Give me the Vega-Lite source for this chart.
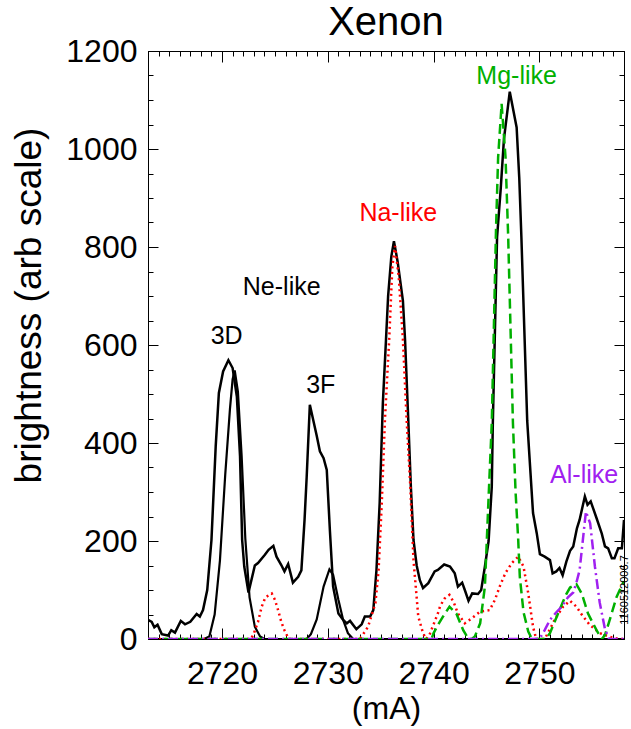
{
  "$schema": "https://vega.github.io/schema/vega-lite/v6.json",
  "width": 476,
  "height": 588,
  "autosize": {"type": "none"},
  "padding": {"left": 148, "top": 51, "right": 7, "bottom": 90},
  "title": {"text": "Xenon", "fontSize": 40, "font": "Liberation Sans", "fontWeight": "normal", "color": "black", "anchor": "middle", "frame": "group", "offset": 14, "dy": 22},
  "config": {
    "view": {"stroke": "black", "strokeWidth": 1},
    "axis": {"domainColor": "black", "tickColor": "black", "labelColor": "black", "titleColor": "black", "labelFont": "Liberation Sans", "titleFont": "Liberation Sans", "titleFontWeight": "normal", "grid": false}
  },
  "datasets": {
    "obs": [
      {"x":2713.0,"y":39},{"x":2713.35,"y":35},{"x":2713.6,"y":24},{"x":2713.9,"y":29},{"x":2714.3,"y":10},{"x":2714.9,"y":7},{"x":2715.2,"y":18},{"x":2715.55,"y":13},{"x":2716.1,"y":37},{"x":2716.5,"y":30},{"x":2717.0,"y":35},{"x":2717.6,"y":51},{"x":2717.9,"y":46},{"x":2718.2,"y":59},{"x":2718.6,"y":100},{"x":2719.0,"y":202},{"x":2719.4,"y":393},{"x":2719.7,"y":502},{"x":2720.1,"y":546},{"x":2720.6,"y":569},{"x":2721.0,"y":553},{"x":2721.4,"y":495},{"x":2721.7,"y":373},{"x":2721.9,"y":202},{"x":2722.1,"y":148},{"x":2722.5,"y":95},{"x":2723.1,"y":150},{"x":2723.4,"y":155},{"x":2724.05,"y":172},{"x":2724.4,"y":182},{"x":2724.85,"y":190},{"x":2725.15,"y":168},{"x":2725.6,"y":151},{"x":2725.9,"y":138},{"x":2726.25,"y":153},{"x":2726.7,"y":115},{"x":2727.2,"y":127},{"x":2727.5,"y":140},{"x":2727.8,"y":243},{"x":2728.0,"y":330},{"x":2728.3,"y":478},{"x":2728.95,"y":415},{"x":2729.25,"y":383},{"x":2729.6,"y":369},{"x":2729.9,"y":345},{"x":2730.2,"y":220},{"x":2730.5,"y":107},{"x":2731.0,"y":52},{"x":2731.45,"y":39},{"x":2731.8,"y":32},{"x":2732.1,"y":37},{"x":2732.7,"y":20},{"x":2733.2,"y":30},{"x":2733.5,"y":46},{"x":2734.0,"y":46},{"x":2734.3,"y":59},{"x":2734.6,"y":141},{"x":2734.9,"y":277},{"x":2735.2,"y":480},{"x":2735.5,"y":611},{"x":2735.7,"y":700},{"x":2736.0,"y":780},{"x":2736.25,"y":812},{"x":2736.6,"y":770},{"x":2737.1,"y":690},{"x":2737.3,"y":611},{"x":2737.6,"y":450},{"x":2737.85,"y":311},{"x":2738.1,"y":202},{"x":2738.4,"y":150},{"x":2738.7,"y":120},{"x":2739.0,"y":104},{"x":2739.5,"y":114},{"x":2740.1,"y":138},{"x":2740.4,"y":141},{"x":2741.0,"y":152},{"x":2741.55,"y":148},{"x":2742.0,"y":134},{"x":2742.3,"y":107},{"x":2742.7,"y":115},{"x":2743.0,"y":97},{"x":2743.3,"y":78},{"x":2743.65,"y":93},{"x":2744.2,"y":92},{"x":2744.5,"y":100},{"x":2744.85,"y":148},{"x":2745.2,"y":200},{"x":2745.5,"y":311},{"x":2745.6,"y":441},{"x":2746.0,"y":820},{"x":2746.35,"y":920},{"x":2746.65,"y":1020},{"x":2747.2,"y":1117},{"x":2747.85,"y":1044},{"x":2748.1,"y":940},{"x":2748.3,"y":820},{"x":2748.85,"y":445},{"x":2749.4,"y":257},{"x":2749.75,"y":216},{"x":2750.05,"y":173},{"x":2750.5,"y":168},{"x":2751.0,"y":161},{"x":2751.25,"y":134},{"x":2751.6,"y":138},{"x":2751.9,"y":145},{"x":2752.2,"y":130},{"x":2752.55,"y":158},{"x":2752.9,"y":180},{"x":2753.2,"y":189},{"x":2753.55,"y":226},{"x":2753.8,"y":243},{"x":2754.3,"y":291},{"x":2754.55,"y":274},{"x":2754.85,"y":281},{"x":2755.4,"y":247},{"x":2755.9,"y":215},{"x":2756.2,"y":189},{"x":2756.5,"y":185},{"x":2756.85,"y":165},{"x":2757.1,"y":165},{"x":2757.45,"y":185},{"x":2757.8,"y":185},{"x":2758.0,"y":243}
    ],
    "ne": [
      {"x":2713.0,"y":0},{"x":2718.3,"y":0},{"x":2718.8,"y":5},{"x":2719.3,"y":50},{"x":2719.8,"y":160},{"x":2720.3,"y":335},{"x":2720.75,"y":470},{"x":2721.0,"y":530},{"x":2721.2,"y":548},{"x":2721.5,"y":505},{"x":2721.85,"y":375},{"x":2722.2,"y":205},{"x":2722.6,"y":85},{"x":2723.1,"y":25},{"x":2723.6,"y":5},{"x":2724.0,"y":0},{"x":2728.0,"y":0},{"x":2728.4,"y":10},{"x":2728.95,"y":40},{"x":2729.6,"y":107},{"x":2730.15,"y":142},{"x":2730.5,"y":131},{"x":2731.0,"y":80},{"x":2731.45,"y":39},{"x":2731.9,"y":12},{"x":2732.4,"y":0},{"x":2758.0,"y":0}
    ],
    "na": [
      {"x":2713.0,"y":0},{"x":2722.7,"y":0},{"x":2722.95,"y":8},{"x":2723.4,"y":35},{"x":2723.75,"y":66},{"x":2724.1,"y":85},{"x":2724.7,"y":93},{"x":2725.0,"y":80},{"x":2725.3,"y":59},{"x":2725.6,"y":35},{"x":2725.9,"y":18},{"x":2726.3,"y":0},{"x":2733.0,"y":0},{"x":2733.2,"y":5},{"x":2733.8,"y":25},{"x":2734.5,"y":73},{"x":2734.8,"y":141},{"x":2735.1,"y":277},{"x":2735.4,"y":448},{"x":2735.8,"y":611},{"x":2736.1,"y":760},{"x":2736.35,"y":802},{"x":2736.7,"y":740},{"x":2737.1,"y":611},{"x":2737.45,"y":448},{"x":2737.8,"y":311},{"x":2738.1,"y":161},{"x":2738.55,"y":46},{"x":2739.0,"y":12},{"x":2739.3,"y":0},{"x":2739.6,"y":8},{"x":2740.0,"y":30},{"x":2740.4,"y":52},{"x":2740.6,"y":66},{"x":2741.0,"y":82},{"x":2741.5,"y":90},{"x":2741.9,"y":75},{"x":2742.3,"y":52},{"x":2742.95,"y":32},{"x":2743.6,"y":42},{"x":2744.4,"y":56},{"x":2745.3,"y":59},{"x":2745.8,"y":80},{"x":2746.3,"y":110},{"x":2746.8,"y":135},{"x":2747.4,"y":155},{"x":2748.0,"y":168},{"x":2748.5,"y":148},{"x":2748.95,"y":93},{"x":2749.4,"y":25},{"x":2749.7,"y":0},{"x":2750.5,"y":0},{"x":2751.0,"y":20},{"x":2751.5,"y":42},{"x":2752.25,"y":66},{"x":2752.9,"y":78},{"x":2753.5,"y":66},{"x":2754.0,"y":50},{"x":2754.75,"y":29},{"x":2755.7,"y":12},{"x":2756.6,"y":5},{"x":2757.5,"y":0},{"x":2758.0,"y":0}
    ],
    "mg": [
      {"x":2713.0,"y":0},{"x":2739.8,"y":0},{"x":2740.0,"y":12},{"x":2740.5,"y":32},{"x":2740.9,"y":46},{"x":2741.5,"y":66},{"x":2742.15,"y":52},{"x":2742.8,"y":18},{"x":2743.3,"y":0},{"x":2743.6,"y":0},{"x":2743.9,"y":5},{"x":2744.4,"y":32},{"x":2744.85,"y":107},{"x":2745.2,"y":290},{"x":2745.5,"y":441},{"x":2745.9,"y":836},{"x":2746.1,"y":983},{"x":2746.43,"y":1092},{"x":2746.8,"y":983},{"x":2747.05,"y":822},{"x":2747.5,"y":441},{"x":2747.75,"y":300},{"x":2748.0,"y":202},{"x":2748.15,"y":127},{"x":2748.5,"y":55},{"x":2748.95,"y":15},{"x":2749.3,"y":0},{"x":2750.6,"y":0},{"x":2751.0,"y":12},{"x":2751.9,"y":59},{"x":2752.5,"y":90},{"x":2752.9,"y":105},{"x":2753.5,"y":112},{"x":2754.0,"y":93},{"x":2754.6,"y":52},{"x":2755.4,"y":18},{"x":2755.9,"y":0},{"x":2756.2,"y":8},{"x":2756.65,"y":39},{"x":2757.3,"y":86},{"x":2757.9,"y":114},{"x":2758.0,"y":118}
    ],
    "al": [
      {"x":2713.0,"y":0},{"x":2750.0,"y":0},{"x":2750.5,"y":18},{"x":2751.0,"y":39},{"x":2751.5,"y":52},{"x":2752.1,"y":66},{"x":2752.7,"y":85},{"x":2753.2,"y":95},{"x":2753.5,"y":115},{"x":2753.8,"y":140},{"x":2754.1,"y":200},{"x":2754.4,"y":260},{"x":2754.8,"y":236},{"x":2755.25,"y":148},{"x":2755.7,"y":75},{"x":2756.2,"y":20},{"x":2756.6,"y":0},{"x":2758.0,"y":0}
    ],
    "labels": [
      {"x":2747.85,"y":1149,"label":"Mg-like","grp":"Mg"},
      {"x":2736.66,"y":870,"label":"Na-like","grp":"Na"},
      {"x":2725.64,"y":719,"label":"Ne-like","grp":"Ne"},
      {"x":2720.44,"y":618,"label":"3D","grp":"Ne"},
      {"x":2729.33,"y":519,"label":"3F","grp":"Ne"},
      {"x":2754.23,"y":335,"label":"Al-like","grp":"Al"}
    ],
    "stamp": [
      {"x":2758.12,"y":100,"label":"1160512006.7"}
    ]
  },
  "resolve": {"axis": {"x": "independent", "y": "independent"}},
  "layer": [
    {
      "data": {"name": "obs"},
      "mark": {"type": "line", "color": "black", "strokeWidth": 2.5, "clip": true},
      "encoding": {
        "x": {"field": "x", "type": "quantitative", "scale": {"domain": [2713, 2758], "nice": false, "zero": false},
              "axis": {"orient": "bottom", "values": [2720, 2730, 2740, 2750], "format": "d", "tickSize": -11, "labelPadding": 55, "labelFontSize": 32, "labelBaseline": "alphabetic", "title": "(mA)", "titleFontSize": 32, "titlePadding": 4, "labelFlush": false}},
        "y": {"field": "y", "type": "quantitative", "scale": {"domain": [0, 1200], "nice": false, "zero": true},
              "axis": {"orient": "left", "values": [0, 200, 400, 600, 800, 1000, 1200], "format": "d", "tickSize": -10, "labelPadding": 21, "labelFontSize": 32, "title": "brightness (arb scale)", "titleFontSize": 37, "titleX": -100, "titleY": 254, "titleAngle": -90, "titleAlign": "center", "titleBaseline": "bottom", "labelFlush": false}}
      }
    },
    {
      "data": {"name": "ne"},
      "mark": {"type": "line", "color": "black", "strokeWidth": 2.2, "clip": true},
      "encoding": {
        "x": {"field": "x", "type": "quantitative", "axis": {"orient": "bottom", "values": [2713,2714,2715,2716,2717,2718,2719,2721,2722,2723,2724,2725,2726,2727,2728,2729,2731,2732,2733,2734,2735,2736,2737,2738,2739,2741,2742,2743,2744,2745,2746,2747,2748,2749,2751,2752,2753,2754,2755,2756,2757], "tickSize": -5, "labels": false, "domain": false, "title": null}},
        "y": {"field": "y", "type": "quantitative", "axis": {"orient": "left", "values": [50,100,150,250,300,350,450,500,550,650,700,750,850,900,950,1050,1100,1150], "tickSize": -5, "labels": false, "domain": false, "title": null}}
      }
    },
    {
      "data": {"name": "na"},
      "mark": {"type": "line", "color": "#ff0000", "strokeWidth": 2.5, "strokeDash": [2, 3.5], "clip": true},
      "encoding": {
        "x": {"field": "x", "type": "quantitative", "axis": {"orient": "top", "values": [2720, 2730, 2740, 2750], "tickSize": -11, "labels": false, "title": null}},
        "y": {"field": "y", "type": "quantitative", "axis": {"orient": "right", "values": [0, 200, 400, 600, 800, 1000, 1200], "tickSize": -10, "labels": false, "title": null}}
      }
    },
    {
      "data": {"name": "mg"},
      "mark": {"type": "line", "color": "#00b000", "strokeWidth": 2.5, "strokeDash": [10, 5], "clip": true},
      "encoding": {
        "x": {"field": "x", "type": "quantitative", "axis": {"orient": "top", "values": [2713,2714,2715,2716,2717,2718,2719,2721,2722,2723,2724,2725,2726,2727,2728,2729,2731,2732,2733,2734,2735,2736,2737,2738,2739,2741,2742,2743,2744,2745,2746,2747,2748,2749,2751,2752,2753,2754,2755,2756,2757], "tickSize": -5, "labels": false, "domain": false, "title": null}},
        "y": {"field": "y", "type": "quantitative", "axis": {"orient": "right", "values": [50,100,150,250,300,350,450,500,550,650,700,750,850,900,950,1050,1100,1150], "tickSize": -5, "labels": false, "domain": false, "title": null}}
      }
    },
    {
      "data": {"name": "al"},
      "mark": {"type": "line", "color": "#a020f0", "strokeWidth": 2.5, "strokeDash": [10, 4, 2, 4], "clip": true},
      "encoding": {
        "x": {"field": "x", "type": "quantitative", "axis": null},
        "y": {"field": "y", "type": "quantitative", "axis": null}
      }
    },
    {
      "data": {"name": "labels"},
      "mark": {"type": "text", "font": "Liberation Sans", "fontSize": 25, "align": "center", "baseline": "middle"},
      "encoding": {
        "x": {"field": "x", "type": "quantitative", "axis": null},
        "y": {"field": "y", "type": "quantitative", "axis": null},
        "text": {"field": "label", "type": "nominal"},
        "color": {"field": "grp", "type": "nominal", "legend": null, "scale": {"domain": ["Ne", "Na", "Mg", "Al"], "range": ["black", "#ff0000", "#00b000", "#a020f0"]}}
      }
    },
    {
      "data": {"name": "stamp"},
      "mark": {"type": "text", "font": "Liberation Sans", "fontSize": 11, "angle": 270, "align": "center", "baseline": "middle", "color": "black", "clip": false},
      "encoding": {
        "x": {"field": "x", "type": "quantitative", "axis": null},
        "y": {"field": "y", "type": "quantitative", "axis": null},
        "text": {"field": "label", "type": "nominal"}
      }
    }
  ]
}
